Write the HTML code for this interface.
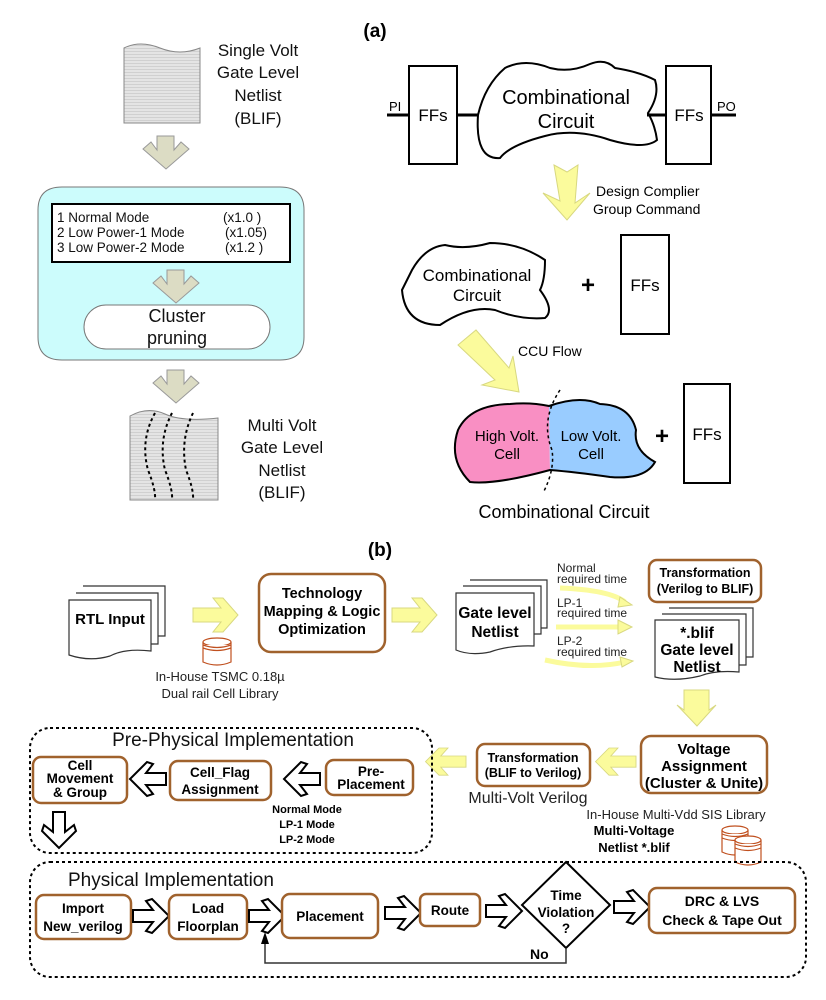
<!DOCTYPE html>
<html><head><meta charset="utf-8"><style>
html,body{margin:0;padding:0;background:#fff}
svg{display:block}
text{font-family:"Liberation Sans",sans-serif}
.b{font-weight:bold}
.box{fill:#fff;stroke:#a0622d;stroke-width:2.5}
.ya{fill:#fbfb9c;stroke:#d8d880;stroke-width:1}
.wa{fill:#fff;stroke:#000;stroke-width:2}
.ga{fill:#dcdcc4;stroke:#999;stroke-width:1}
.doc{fill:#fff;stroke:#333;stroke-width:1.2}
</style></head><body>
<svg width="826" height="1000" viewBox="0 0 826 1000" xmlns="http://www.w3.org/2000/svg">
<defs>
<pattern id="ln" width="4" height="3" patternUnits="userSpaceOnUse"><rect width="4" height="3" fill="#e4e4e4"/><rect width="4" height="1" fill="#d0d0d0"/></pattern>
<path id="yr" d="M0,10 H28 L20,0 H30 L45,17 L30,34 H20 L28,24 H0 Z"/>
<path id="wr" d="M0,11 H20 L13,2 L19,0 L36,17 L19,34 L13,32 L20,23 H0 Z"/>
<path id="gd" d="M14,0 H31 V14 L38,6 L46,13 L23,33 L0,13 L8,6 L14,14 Z"/>
</defs>

<!-- ===== Top-left ===== -->
<path d="M124,48 Q140,40 160,48 T200,48 V123 H124 Z" fill="url(#ln)" stroke="#888"/>
<g font-size="17" text-anchor="middle" fill="#111">
<text x="258" y="56">Single Volt</text><text x="258" y="78">Gate Level</text><text x="258" y="101">Netlist</text><text x="258" y="124">(BLIF)</text>
</g>
<use href="#gd" x="143" y="136" class="ga"/>
<path d="M62,187 H280 Q304,187 304,210 V337 Q304,360 280,360 H62 Q38,360 38,337 V210 Q38,187 62,187 Z" fill="#ccfcfc" stroke="#777"/>
<rect x="52" y="204" width="238" height="58" fill="#fff" stroke="#000" stroke-width="2"/>
<g font-size="13.5" fill="#111">
<text x="57" y="222">1 Normal Mode</text><text x="223" y="222">(x1.0  )</text>
<text x="57" y="237">2 Low Power-1 Mode</text><text x="225" y="237">(x1.05)</text>
<text x="57" y="252">3 Low Power-2 Mode</text><text x="225" y="252">(x1.2  )</text>
</g>
<use href="#gd" x="153" y="270" class="ga"/>
<rect x="84" y="305" width="186" height="44" rx="22" fill="#fff" stroke="#777"/>
<g font-size="18" text-anchor="middle" fill="#111"><text x="177" y="322">Cluster</text><text x="177" y="344">pruning</text></g>
<use href="#gd" x="153" y="370" class="ga"/>
<path d="M130,416 Q148,406 165,414 T218,418 V500 H130 Z" fill="url(#ln)" stroke="#888"/>
<g fill="none" stroke="#000" stroke-width="2" stroke-dasharray="3,3">
<path d="M155,413 Q140,440 148,470 Q156,490 155,500"/>
<path d="M172,413 Q158,440 165,470 Q173,490 172,500"/>
<path d="M193,413 Q180,440 186,470 Q194,490 193,500"/>
</g>
<g font-size="17" text-anchor="middle" fill="#111">
<text x="282" y="431">Multi Volt</text><text x="282" y="453">Gate Level</text><text x="282" y="476">Netlist</text><text x="282" y="498">(BLIF)</text>
</g>

<!-- ===== Top-right (a) ===== -->
<text x="375" y="37" font-family="Liberation Serif" font-weight="bold" font-size="19" text-anchor="middle">(a)</text>
<line x1="387" y1="115" x2="409" y2="115" stroke="#000" stroke-width="3"/>
<text x="389" y="111" font-size="13">PI</text>
<rect x="409" y="66" width="48" height="98" fill="#fff" stroke="#000" stroke-width="2"/>
<text x="433" y="121" font-family="Liberation Serif" font-size="17" text-anchor="middle">FFs</text>
<line x1="457" y1="115" x2="478" y2="115" stroke="#000" stroke-width="3"/>
<path d="M478,115 Q485,85 505,68 Q525,58 550,68 Q570,73 590,64 Q605,58 615,68 Q640,72 655,80 Q660,95 648,113 Q655,125 657,140 Q645,150 610,140 Q575,128 545,136 Q510,145 500,158 Q475,160 478,115 Z" fill="#fff" stroke="#000" stroke-width="2"/>
<g font-size="20" text-anchor="middle"><text x="566" y="104">Combinational</text><text x="566" y="128">Circuit</text></g>
<line x1="647" y1="115" x2="666" y2="115" stroke="#000" stroke-width="3"/>
<rect x="666" y="66" width="45" height="98" fill="#fff" stroke="#000" stroke-width="2"/>
<text x="689" y="121" font-family="Liberation Serif" font-size="17" text-anchor="middle">FFs</text>
<line x1="711" y1="115" x2="736" y2="115" stroke="#000" stroke-width="3"/>
<text x="717" y="111" font-size="13">PO</text>
<path d="M554,165 L567,172 L578,165 L575,203 L590,193 L567,220 L543,193 L560,201 Z" class="ya"/>
<g font-size="14"><text x="596" y="196">Design Complier</text><text x="593" y="214">Group Command</text></g>
<path d="M412,270 Q425,247 445,245 Q465,250 490,243 Q520,243 545,260 Q545,280 540,290 Q555,310 545,318 Q520,320 495,310 Q470,305 440,325 Q405,325 402,290 Z" fill="#fff" stroke="#000" stroke-width="2"/>
<g font-size="17" text-anchor="middle"><text x="477" y="281">Combinational</text><text x="477" y="301">Circuit</text></g>
<text x="588" y="293" font-size="24" font-weight="bold" text-anchor="middle">+</text>
<rect x="621" y="235" width="48" height="99" fill="#fff" stroke="#000" stroke-width="2"/>
<text x="645" y="291" font-family="Liberation Serif" font-size="17" text-anchor="middle">FFs</text>
<path d="M458,345 L476,330 L509,368 L513,356 L519,392 L482,385 L495,380 Z" class="ya"/>
<text x="518" y="356" font-size="14">CCU Flow</text>
<path d="M549,406 Q530,402 510,404 Q470,405 458,430 Q448,460 470,482 Q495,485 550,470 Z" fill="#f98fc3" stroke="none"/>
<path d="M549,406 Q580,395 600,404 Q630,405 636,430 Q633,450 655,462 Q645,480 610,477 Q575,472 550,470 Z" fill="#99ccff" stroke="none"/>
<path d="M458,430 Q470,405 510,404 Q530,402 549,406 Q580,395 600,404 Q630,405 636,430 Q633,450 655,462 Q645,480 610,477 Q575,472 550,470 Q495,485 470,482 Q448,460 458,430 Z" fill="none" stroke="#000" stroke-width="2"/>
<path d="M560,390 Q540,420 552,450 Q555,470 543,493" fill="none" stroke="#000" stroke-width="1.5" stroke-dasharray="3,3"/>
<g font-size="15" text-anchor="middle"><text x="507" y="441">High Volt.</text><text x="507" y="459">Cell</text><text x="591" y="441">Low Volt.</text><text x="591" y="459">Cell</text></g>
<text x="662" y="444" font-size="24" font-weight="bold" text-anchor="middle">+</text>
<rect x="684" y="384" width="46" height="99" fill="#fff" stroke="#000" stroke-width="2"/>
<text x="707" y="440" font-family="Liberation Serif" font-size="17" text-anchor="middle">FFs</text>
<text x="564" y="518" font-size="18" text-anchor="middle">Combinational  Circuit</text>

<!-- ===== (b) ===== -->
<text x="380" y="556" font-family="Liberation Serif" font-weight="bold" font-size="19" text-anchor="middle">(b)</text>
<!-- RTL doc stack -->
<path d="M83,586 H165 V636 H155" class="doc"/>
<path d="M76,593 H158 V644 H150" class="doc"/>
<path d="M69,600 H151 V651 Q125,648 110,656 Q90,662 69,655 Z" class="doc"/>
<text x="110" y="624" class="b" font-size="15" text-anchor="middle">RTL Input</text>
<use href="#yr" x="193" y="598" class="ya"/>
<g fill="#fff" stroke="#c0501f" stroke-width="1.2">
<path d="M203,642 V662 Q217,668 231,662 V642"/><ellipse cx="217" cy="642" rx="14" ry="4"/>
<path d="M203,645 Q217,650 231,645 M203,648 Q217,653 231,648"/>
</g>
<g font-size="13" text-anchor="middle" fill="#222"><text x="220" y="681">In-House TSMC 0.18µ</text><text x="220" y="698">Dual rail Cell Library</text></g>
<rect x="259" y="574" width="126" height="78" rx="12" class="box"/>
<g class="b" font-size="14.5" text-anchor="middle"><text x="322" y="598">Technology</text><text x="322" y="616">Mapping &amp; Logic</text><text x="322" y="634">Optimization</text></g>
<use href="#yr" x="392" y="598" class="ya"/>
<path d="M470,580 H547 V628 H540" class="doc"/>
<path d="M463,586 H541 V634 H533" class="doc"/>
<path d="M456,593 H534 V646 Q510,645 490,652 Q470,656 456,650 Z" class="doc"/>
<g class="b" font-size="15.5" text-anchor="middle"><text x="495" y="618">Gate level</text><text x="495" y="637">Netlist</text></g>
<g font-size="12" fill="#222"><text x="557" y="572">Normal</text><text x="557" y="583">required time</text>
<text x="557" y="607">LP-1</text><text x="557" y="617">required time</text>
<text x="557" y="645">LP-2</text><text x="557" y="656">required time</text></g>
<g fill="none" stroke="#fbfb9c" stroke-width="5">
<path d="M560,588 Q610,590 625,602"/><path d="M556,627 H622"/><path d="M545,660 Q590,670 625,662"/>
</g>
<g class="ya"><path d="M620,597 L632,605 L618,607 Z"/><path d="M618,620 L632,627 L618,634 Z"/><path d="M620,657 L633,661 L622,667 Z"/></g>
<rect x="649" y="560" width="112" height="42" rx="8" class="box"/>
<g class="b" font-size="12.5" text-anchor="middle"><text x="705" y="577">Transformation</text><text x="705" y="593">(Verilog to BLIF)</text></g>
<path d="M669,608 H753 V657 H746" class="doc"/>
<path d="M662,614 H746 V665 H739" class="doc"/>
<path d="M655,620 H739 V672 Q715,670 700,676 Q675,682 655,677 Z" class="doc"/>
<g class="b" font-size="15.5" text-anchor="middle"><text x="697" y="638">*.blif</text><text x="697" y="655">Gate level</text><text x="697" y="672">Netlist</text></g>
<path d="M684,690 H709 V710 L716,705 L697,726 L677,705 L684,710 Z" class="ya"/>
<rect x="641" y="736" width="126" height="57" rx="10" class="box"/>
<g class="b" font-size="15" text-anchor="middle"><text x="704" y="754">Voltage</text><text x="704" y="771">Assignment</text><text x="704" y="788">(Cluster &amp; Unite)</text></g>
<use href="#yr" transform="translate(636,748) scale(-0.9,0.8)" class="ya"/>
<rect x="477" y="744" width="113" height="42" rx="8" class="box"/>
<g class="b" font-size="12.5" text-anchor="middle"><text x="533" y="762">Transformation</text><text x="533" y="777">(BLIF to Verilog)</text></g>
<use href="#yr" transform="translate(466,748) scale(-0.9,0.8)" class="ya"/>
<text x="528" y="803" font-size="16" text-anchor="middle" fill="#222">Multi-Volt Verilog</text>
<text x="676" y="819" font-size="13" text-anchor="middle" fill="#222">In-House Multi-Vdd SIS Library</text>
<g class="b" font-size="13" text-anchor="middle"><text x="634" y="835">Multi-Voltage</text><text x="634" y="852">Netlist *.blif</text></g>
<g fill="#fff" stroke="#c0501f" stroke-width="1.2">
<path d="M722,830 V852 Q735,858 748,852 V830"/><ellipse cx="735" cy="830" rx="13" ry="4"/>
<path d="M722,834 Q735,839 748,834 M722,838 Q735,843 748,838"/>
<path d="M735,840 V862 Q748,868 761,862 V840"/><ellipse cx="748" cy="840" rx="13" ry="4"/>
<path d="M735,844 Q748,849 761,844 M735,848 Q748,853 761,848"/>
</g>

<!-- Pre-physical -->
<rect x="30" y="728" width="402" height="125" rx="20" fill="none" stroke="#000" stroke-width="2" stroke-dasharray="3,3"/>
<text x="233" y="746" font-size="19" text-anchor="middle" fill="#111">Pre-Physical Implementation</text>
<rect x="33" y="757" width="94" height="46" rx="8" class="box"/>
<g class="b" font-size="13.5" text-anchor="middle"><text x="80" y="770">Cell</text><text x="80" y="783">Movement</text><text x="80" y="797">&amp; Group</text></g>
<use href="#wr" transform="translate(166,762) scale(-1,1)" class="wa"/>
<rect x="170" y="761" width="101" height="39" rx="8" class="box"/>
<g class="b" font-size="13.5" text-anchor="middle"><text x="220" y="777">Cell_Flag</text><text x="220" y="794">Assignment</text></g>
<use href="#wr" transform="translate(320,762) scale(-1,1)" class="wa"/>
<rect x="326" y="760" width="87" height="35" rx="8" class="box"/>
<g class="b" font-size="13.5" text-anchor="middle"><text x="371" y="776">Pre-</text><text x="371" y="789">Placement</text></g>
<g class="b" font-size="11" text-anchor="middle"><text x="307" y="813">Normal Mode</text><text x="307" y="828">LP-1 Mode</text><text x="307" y="843">LP-2 Mode</text></g>
<use href="#wr" transform="translate(76,812) rotate(90)" class="wa"/>

<!-- Physical -->
<rect x="30" y="862" width="776" height="115" rx="20" fill="none" stroke="#000" stroke-width="2" stroke-dasharray="3,3"/>
<text x="68" y="886" font-size="19" fill="#111">Physical Implementation</text>
<rect x="36" y="895" width="95" height="44" rx="8" class="box"/>
<g class="b" font-size="13.5" text-anchor="middle"><text x="83" y="913">Import</text><text x="83" y="931">New_verilog</text></g>
<use href="#wr" x="133" y="899" class="wa"/>
<rect x="169" y="895" width="78" height="44" rx="8" class="box"/>
<g class="b" font-size="13.5" text-anchor="middle"><text x="208" y="913">Load</text><text x="208" y="931">Floorplan</text></g>
<use href="#wr" x="249" y="899" class="wa"/>
<rect x="282" y="894" width="96" height="44" rx="8" class="box"/>
<text x="330" y="921" class="b" font-size="13.5" text-anchor="middle">Placement</text>
<use href="#wr" x="385" y="896" class="wa"/>
<rect x="420" y="894" width="60" height="32" rx="6" class="box"/>
<text x="450" y="915" class="b" font-size="13.5" text-anchor="middle">Route</text>
<use href="#wr" x="486" y="894" class="wa"/>
<path d="M566,862 L610,905 L566,948 L522,905 Z" fill="#fff" stroke="#000" stroke-width="2"/>
<g class="b" font-size="13.5" text-anchor="middle"><text x="566" y="900">Time</text><text x="566" y="917">Violation</text><text x="566" y="933">?</text></g>
<use href="#wr" x="614" y="890" class="wa"/>
<rect x="649" y="888" width="146" height="45" rx="8" class="box"/>
<g class="b" font-size="14" text-anchor="middle"><text x="722" y="906">DRC &amp; LVS</text><text x="722" y="925">Check &amp; Tape Out</text></g>
<path d="M566,948 V963 H265 V942" fill="none" stroke="#333" stroke-width="1.5"/>
<path d="M261,944 L265,932 L269,944 Z" fill="#000"/>
<text x="530" y="959" class="b" font-size="14">No</text>
</svg>
</body></html>
